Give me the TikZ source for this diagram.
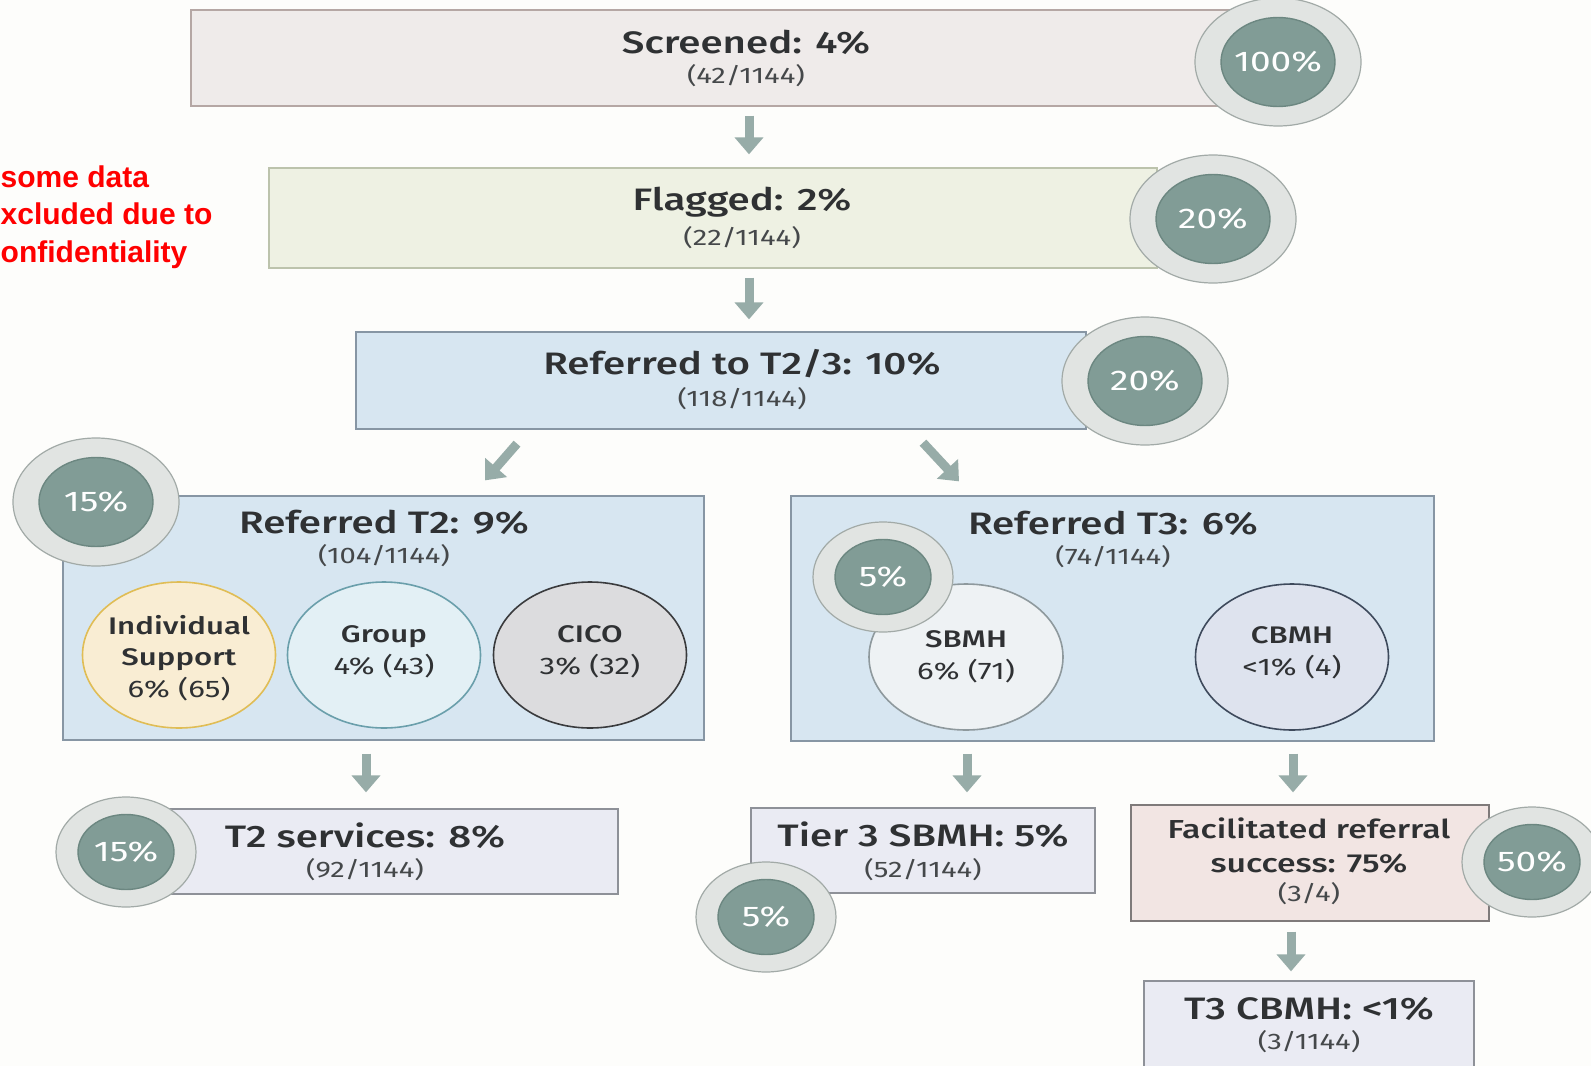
\documentclass[tikz,border=0pt]{standalone}
\usepackage{fontspec}
\setmainfont{Fira Sans}[BoldFont={Fira Sans Medium}]
\newfontfamily\notefont{Liberation Sans}
\usetikzlibrary{shapes.geometric,arrows.meta,calc}

\definecolor{paper}{HTML}{FDFDFB}
\definecolor{txtdark}{HTML}{2F3133}
\definecolor{txtsub}{HTML}{45484A}
\definecolor{scrfill}{HTML}{EFEBEA}
\definecolor{scrline}{HTML}{B5A7A4}
\definecolor{flgfill}{HTML}{EEF1E3}
\definecolor{flgline}{HTML}{BCC3AC}
\definecolor{reffill}{HTML}{D7E6F1}
\definecolor{refline}{HTML}{8796A4}
\definecolor{outfill}{HTML}{EAEBF3}
\definecolor{outline}{HTML}{8E9198}
\definecolor{facfill}{HTML}{F2E5E3}
\definecolor{facline}{HTML}{7F7A7A}
\definecolor{indfill}{HTML}{F9EDD3}
\definecolor{indline}{HTML}{E0BD55}
\definecolor{grpfill}{HTML}{E3F0F5}
\definecolor{grpline}{HTML}{6A9FAB}
\definecolor{cicofill}{HTML}{DCDCDE}
\definecolor{cicoline}{HTML}{3A3B3D}
\definecolor{sbmhfill}{HTML}{EEF2F4}
\definecolor{sbmhline}{HTML}{8E999D}
\definecolor{cbmhfill}{HTML}{DEE3EE}
\definecolor{cbmhline}{HTML}{3E4A5C}
\definecolor{ringfill}{HTML}{E1E4E2}
\definecolor{ringline}{HTML}{A2AAA7}
\definecolor{corefill}{HTML}{819C96}
\definecolor{coreline}{HTML}{6C8781}
\definecolor{arrowc}{HTML}{97ACA8}
\definecolor{notered}{HTML}{FF0000}

\tikzset{
  box/.style={rectangle, draw, line width=1.3pt, inner sep=0pt},
  bubble/.style={ellipse, draw, line width=1.6pt, inner sep=0pt, minimum width=193, minimum height=146},
  lbl/.style={xscale=1.3, inner sep=0pt, align=center, text=txtdark},
  title/.style={lbl, font=\fontsize{31}{37}\selectfont\bfseries},
  sub/.style={lbl, text=txtsub, font=\fontsize{22.5}{27}\selectfont},
  bubtext/.style={lbl, font=\fontsize{24}{31.5}\selectfont},
  badgeouter/.style={ellipse, draw=ringline, fill=ringfill, line width=1.2pt, inner sep=0pt},
  badgeinner/.style={ellipse, draw=coreline, fill=corefill, line width=1.4pt, inner sep=0pt},
  big outer/.style={minimum width=166, minimum height=128},
  big inner/.style={minimum width=114, minimum height=89},
  small outer/.style={minimum width=140, minimum height=110},
  small inner/.style={minimum width=96, minimum height=75},
  badgetext/.style={xscale=1.3, inner sep=0pt, text=white, font=\fontsize{28.5}{32}\selectfont},
  flow/.style={draw=arrowc, line width=9pt, -{Triangle[width=28pt,length=17pt]}},
  note/.style={anchor=base west, inner sep=0pt, text=notered, font=\notefont\bfseries\fontsize{30}{36}\selectfont}
}

% two-ring percentage badge: name, x, y, size, text
\newcommand{\pctbadge}[5]{%
  \node[badgeouter, #4 outer] (#1) at (#2,#3) {};
  \node[badgeinner, #4 inner] (#1-core) at (#2,#3) {};
  \node[badgetext] (#1-txt) at (#2,#3) {#5};}

\begin{document}
\begin{tikzpicture}[x=1pt,y=-1pt]
\clip (0,0) rectangle (1591,1066);
\fill[paper] (0,0) rectangle (1591,1066);

% side note
\node[note] (note1) at (0.5,187) {some data};
\node[note] (note2) at (0.5,224.5) {xcluded due to};
\node[note] (note3) at (0.5,262) {onfidentiality};

% main stages
\node[box, fill=scrfill, draw=scrline, minimum width=1042, minimum height=96] (screened) at (712,58) {};
\node[box, fill=flgfill, draw=flgline, minimum width=888, minimum height=100] (flagged) at (713,218) {};
\node[box, fill=reffill, draw=refline, minimum width=730, minimum height=97] (referred) at (721,380.5) {};
\node[box, fill=reffill, draw=refline, minimum width=641, minimum height=244] (reft2) at (383.5,618) {};
\node[box, fill=reffill, draw=refline, minimum width=643, minimum height=245] (reft3) at (1112.5,618.5) {};
\node[box, fill=outfill, draw=outline, minimum width=451, minimum height=85] (t2serv) at (392.5,851.5) {};
\node[box, fill=outfill, draw=outline, minimum width=344, minimum height=85] (t3sbmh) at (923,850.5) {};
\node[box, fill=facfill, draw=facline, minimum width=358, minimum height=116] (facil) at (1310,863) {};
\node[box, fill=outfill, draw=outline, minimum width=330, minimum height=86] (t3cbmh) at (1309,1024) {};

% stage labels
\node[title] (screenedT) at (746,42) {Screened: 4\%};
\node[sub] (screenedS) at (746,76) {(42/1144)};
\node[title] (flaggedT) at (742,202) {Flagged: 2\%};
\node[sub] (flaggedS) at (742,238) {(22/1144)};
\node[title] (referredT) at (742,364) {Referred to T2/3: 10\%};
\node[sub] (referredS) at (742,399) {(118/1144)};
\node[title] (reft2T) at (384,522) {Referred T2: 9\%};
\node[sub] (reft2S) at (384,556) {(104/1144)};
\node[title] (reft3T) at (1113,523) {Referred T3: 6\%};
\node[sub] (reft3S) at (1113,557) {(74/1144)};
\node[title] (t2servT) at (365,836) {T2 services: 8\%};
\node[sub] (t2servS) at (365,870) {(92/1144)};
\node[title] (t3sbmhT) at (923,835) {Tier 3 SBMH: 5\%};
\node[sub] (t3sbmhS) at (923,870) {(52/1144)};
\node[lbl, font=\fontsize{26}{34}\selectfont\bfseries] (facilT) at (1309,846) {Facilitated referral\\success: 75\%};
\node[sub] (facilS) at (1309,894) {(3/4)};
\node[title] (t3cbmhT) at (1309,1009) {T3 CBMH: <1\%};
\node[sub] (t3cbmhS) at (1309,1042) {(3/1144)};

% service bubbles
\node[bubble, fill=indfill, draw=indline] (indiv) at (179,655) {};
\node[bubble, fill=grpfill, draw=grpline] (group) at (384,655) {};
\node[bubble, fill=cicofill, draw=cicoline] (cico) at (590,655) {};
\node[bubble, fill=sbmhfill, draw=sbmhline, minimum width=194] (sbmh) at (966,657) {};
\node[bubble, fill=cbmhfill, draw=cbmhline] (cbmh) at (1292,657) {};

\node[bubtext] (indivT) at (179,658) {\textbf{Individual}\\\textbf{Support}\\6\% (65)};
\node[bubtext] (groupT) at (384,652) {\textbf{Group}\\4\% (43)};
\node[bubtext] (cicoT) at (590,652) {\textbf{CICO}\\3\% (32)};
\node[bubtext] (sbmhT) at (966,657) {\textbf{SBMH}\\6\% (71)};
\node[bubtext] (cbmhT) at (1292,653) {\textbf{CBMH}\\<1\% (4)};

% flow arrows
\draw[flow] ($(screened.south)+(37,9)$) -- ($(flagged.north)+(36,-13)$);
\draw[flow] ($(flagged.south)+(36,9)$) -- ($(referred.north)+(28,-12)$);
\draw[flow] ($(referred.south)+(-204,14)$) -- ($(reft2.north)+(101.5,-15)$);
\draw[flow] ($(referred.south)+(202,13)$) -- ($(reft3.north)+(-153.5,-14)$);
\draw[flow] ($(reft2.south)+(-17.5,13)$) -- ($(t2serv.north)+(-26.5,-16)$);
\draw[flow] ($(reft3.south)+(-145.5,12)$) -- ($(t3sbmh.north)+(44,-15)$);
\draw[flow] ($(reft3.south)+(180.5,12)$) -- ($(facil.north)+(-17,-12)$);
\draw[flow] ($(facil.south)+(-19,10)$) -- ($(t3cbmh.north)+(-18,-9)$);

% percentage badges
\pctbadge{bscreened}{1278}{62}{big}{100\%}
\pctbadge{bflagged}{1213}{219}{big}{20\%}
\pctbadge{breferred}{1145}{381}{big}{20\%}
\pctbadge{breft2}{96}{502}{big}{15\%}
\pctbadge{breft3}{883}{577}{small}{5\%}
\pctbadge{bt2serv}{126}{852}{small}{15\%}
\pctbadge{bt3sbmh}{766}{917}{small}{5\%}
\pctbadge{bfacil}{1532}{862}{small}{50\%}
\end{tikzpicture}
\end{document}
